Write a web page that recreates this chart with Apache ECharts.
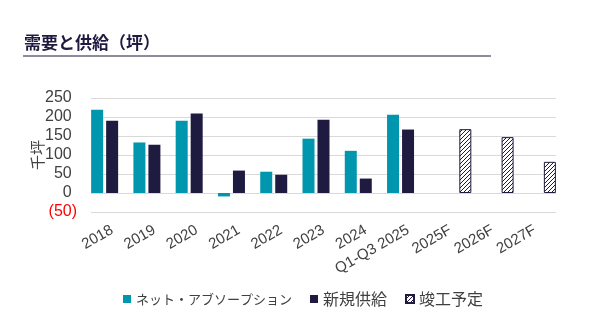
<!DOCTYPE html>
<html>
<head>
<meta charset="utf-8">
<script src="https://cdn.jsdelivr.net/npm/echarts@6/dist/echarts.min.js"></script>
<style>
  html, body { margin: 0; padding: 0; background: #fff; }
  #chart { width: 603px; height: 322px; }
</style>
</head>
<body>
<div id="chart"></div>
<script>
// Demand and supply, thousand tsubo
const categories = ['2018', '2019', '2020', '2021', '2022', '2023', '2024', 'Q1-Q3 2025', '2025F', '2026F', '2027F'];
const netAbsorption = [219, 133, 190, -9, 56, 143, 111, 206, null, null, null];
const newSupply = [190, 127, 209, 59, 48, 193, 38, 167, null, null, null];
const plannedCompletion = [null, null, null, null, null, null, null, null, 168, 147, 82];
const yTicks = { min: -50, max: 250, interval: 50 };
const seriesNames = ['ネット・アブソープション', '新規供給', '竣工予定'];

const TEAL = '#0096ae';
const NAVY = '#1f1a40';
const LABEL = '#404040';
const FONT = '"Liberation Sans", Arial, "Noto Sans CJK JP", sans-serif';
const JP = '"Noto Sans CJK JP", sans-serif';

// Diagonal hatch used for the forecast bars
function hatchPattern() {
  const c = document.createElement('canvas');
  c.width = 4; c.height = 4;
  const g = c.getContext('2d');
  g.fillStyle = '#ffffff';
  g.fillRect(0, 0, 4, 4);
  g.strokeStyle = NAVY;
  g.lineWidth = 1;
  g.beginPath();
  g.moveTo(-1, 5); g.lineTo(5, -1);
  g.moveTo(-1, 1); g.lineTo(1, -1);
  g.moveTo(3, 5); g.lineTo(5, 3);
  g.stroke();
  return { image: c, repeat: 'repeat' };
}

const chart = echarts.init(document.getElementById('chart'), null, { renderer: 'canvas' });
chart.setOption({
  animation: false,
  textStyle: { fontFamily: FONT },
  graphic: [
    {
      type: 'text', left: 24, top: 34,
      style: { text: '需要と供給（坪）', font: 'bold 17px "Noto Sans CJK JP", sans-serif', fill: NAVY }
    },
    {
      type: 'rect', shape: { x: 23, y: 55, width: 468, height: 2 },
      style: { fill: '#8c8c9c' }
    }
  ],
  grid: { left: 91, right: 47, top: 98, bottom: 110, containLabel: false },
  legend: {
    bottom: 10, left: 118,
    itemWidth: 8, itemHeight: 8, itemGap: 18,
    icon: 'rect',
    formatter: name => (name === seriesNames[0] ? '{k|' + name + '}' : '{j|' + name + '}'),
    textStyle: {
      color: LABEL, fontFamily: JP, fontSize: 16,
      rich: {
        k: { fontSize: 13, color: LABEL, fontFamily: JP },
        j: { fontSize: 16, color: LABEL, fontFamily: JP }
      }
    },
    data: seriesNames
  },
  xAxis: {
    type: 'category',
    data: categories,
    axisLine: { show: false },
    axisTick: { show: false },
    axisLabel: { rotate: 30, fontSize: 15, color: LABEL, interval: 0, margin: 17 }
  },
  yAxis: {
    type: 'value',
    min: yTicks.min, max: yTicks.max, interval: yTicks.interval,
    name: '千坪',
    nameLocation: 'middle',
    nameGap: 46,
    nameRotate: 90,
    nameMoveOverlap: false,
    nameTextStyle: { fontSize: 15, color: LABEL, fontFamily: JP },
    axisLine: { show: false },
    axisTick: { show: false },
    splitLine: { lineStyle: { color: '#d9d9d9', width: 1 } },
    axisLabel: {
      margin: 14,
      // accounting style: negatives in red parentheses, positives padded to line up
      formatter: v => (v < 0 ? '{n|(' + Math.abs(v) + ')}' : '{p|' + v + '}{h|)}'),
      rich: {
        p: { fontSize: 16, color: LABEL, fontFamily: FONT },
        n: { fontSize: 16, color: '#ff0000', fontFamily: FONT },
        h: { fontSize: 16, color: 'transparent', fontFamily: FONT }
      }
    }
  },
  series: [
    {
      name: seriesNames[0], type: 'bar', data: netAbsorption,
      barWidth: 12, barGap: '25%',
      itemStyle: { color: TEAL }
    },
    {
      name: seriesNames[1], type: 'bar', data: newSupply,
      barWidth: 12, barGap: '25%',
      itemStyle: { color: NAVY }
    },
    {
      name: seriesNames[2], type: 'bar', data: plannedCompletion,
      barWidth: 12, barGap: '25%',
      itemStyle: { color: hatchPattern(), borderColor: NAVY, borderWidth: 1 }
    }
  ]
});
</script>
</body>
</html>
